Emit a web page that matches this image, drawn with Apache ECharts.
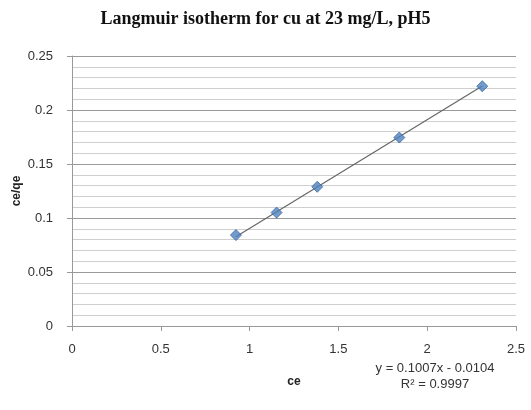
<!DOCTYPE html>
<html>
<head>
<meta charset="utf-8">
<script src="https://cdn.jsdelivr.net/npm/echarts@6/dist/echarts.min.js"></script>
<style>
html, body { margin: 0; padding: 0; background: #fff; }
#chart { width: 531px; height: 410px; }
</style>
</head>
<body>
<div id="chart"></div>
<script>
// values
var ceValues = [0.923, 1.152, 1.381, 1.843, 2.31];
var ceQeValues = [0.0842, 0.105, 0.1289, 0.1745, 0.222];
var xTicks = [0, 0.5, 1, 1.5, 2, 2.5];
var yTicks = [0, 0.05, 0.1, 0.15, 0.2, 0.25];
var trendSlope = 0.1007;
var trendIntercept = -0.0104;
var trendText = ['y = 0.1007x - 0.0104', 'R\u00b2 = 0.9997'];

var chart = echarts.init(document.getElementById('chart'));

var points = [];
for (var i = 0; i < ceValues.length; i++) {
    points.push([ceValues[i], ceQeValues[i]]);
}
// linear trendline across the data range
var xFirst = ceValues[0], xLast = ceValues[ceValues.length - 1];
var trend = [
    [xFirst, trendSlope * xFirst + trendIntercept],
    [xLast, trendSlope * xLast + trendIntercept]
];

var labelFont = 'Liberation Sans Narrow, Liberation Sans, sans-serif';

var option = {
    backgroundColor: '#fff',
    animation: false,
    title: {
        text: 'Langmuir isotherm for cu at 23 mg/L, pH5',
        left: 'center',
        top: 5,
        textStyle: {
            fontFamily: 'Liberation Serif, serif',
            fontWeight: 'bold',
            fontSize: 18,
            color: '#111'
        }
    },
    grid: { left: 72, right: 15, top: 56, bottom: 84, outerBoundsMode: 'none', containLabel: false },
    xAxis: {
        type: 'value',
        min: xTicks[0],
        max: xTicks[xTicks.length - 1],
        interval: 0.5,
        name: 'ce',
        nameLocation: 'middle',
        nameGap: 50,
        nameMoveOverlap: false,
        nameTextStyle: { fontWeight: 'bold', fontSize: 12, color: '#222', fontFamily: 'Liberation Sans, sans-serif' },
        axisLine: { lineStyle: { color: '#999' } },
        axisTick: { show: true, length: 5, lineStyle: { color: '#999' } },
        splitLine: { show: false },
        axisLabel: {
            margin: 17,
            fontSize: 13,
            color: '#333',
            fontFamily: labelFont,
            formatter: function (v) { return String(v); }
        }
    },
    yAxis: {
        type: 'value',
        min: yTicks[0],
        max: yTicks[yTicks.length - 1],
        interval: 0.05,
        axisLine: { show: true, lineStyle: { color: '#999' } },
        axisTick: { show: true, length: 5, lineStyle: { color: '#999' } },
        axisLabel: {
            margin: 19,
            fontSize: 13,
            color: '#333',
            fontFamily: labelFont,
            formatter: function (v) { return String(v); }
        },
        splitLine: { show: true, lineStyle: { color: '#9a9a9a', width: 1.2 } },
        minorTick: { show: false, splitNumber: 5 },
        minorSplitLine: { show: true, lineStyle: { color: '#cfcfcf', width: 1 } }
    },
    series: [
        {
            name: 'trend',
            type: 'line',
            data: trend,
            symbol: 'none',
            lineStyle: { color: '#666', width: 1.2 },
            z: 2
        },
        {
            name: 'ce/qe',
            type: 'scatter',
            data: points,
            symbol: 'diamond',
            symbolSize: 11,
            itemStyle: { color: '#4f81bd', borderColor: '#3a6aa5', borderWidth: 1 },
            z: 3
        }
    ],
    graphic: [
        {
            // y axis title
            type: 'text',
            x: 17,
            y: 191,
            rotation: Math.PI / 2,
            style: {
                text: 'ce/qe',
                textAlign: 'center',
                textVerticalAlign: 'middle',
                font: 'bold 12px Liberation Sans, sans-serif',
                fill: '#222'
            }
        },
        {
            type: 'text',
            x: 435,
            y: 368,
            style: {
                text: trendText[0],
                textAlign: 'center',
                textVerticalAlign: 'middle',
                font: '13px Liberation Sans Narrow, Liberation Sans, sans-serif',
                fill: '#333'
            }
        },
        {
            type: 'text',
            x: 435,
            y: 384,
            style: {
                text: trendText[1],
                textAlign: 'center',
                textVerticalAlign: 'middle',
                font: '13px Liberation Sans Narrow, Liberation Sans, sans-serif',
                fill: '#333'
            }
        }
    ]
};

chart.setOption(option);
</script>
</body>
</html>
